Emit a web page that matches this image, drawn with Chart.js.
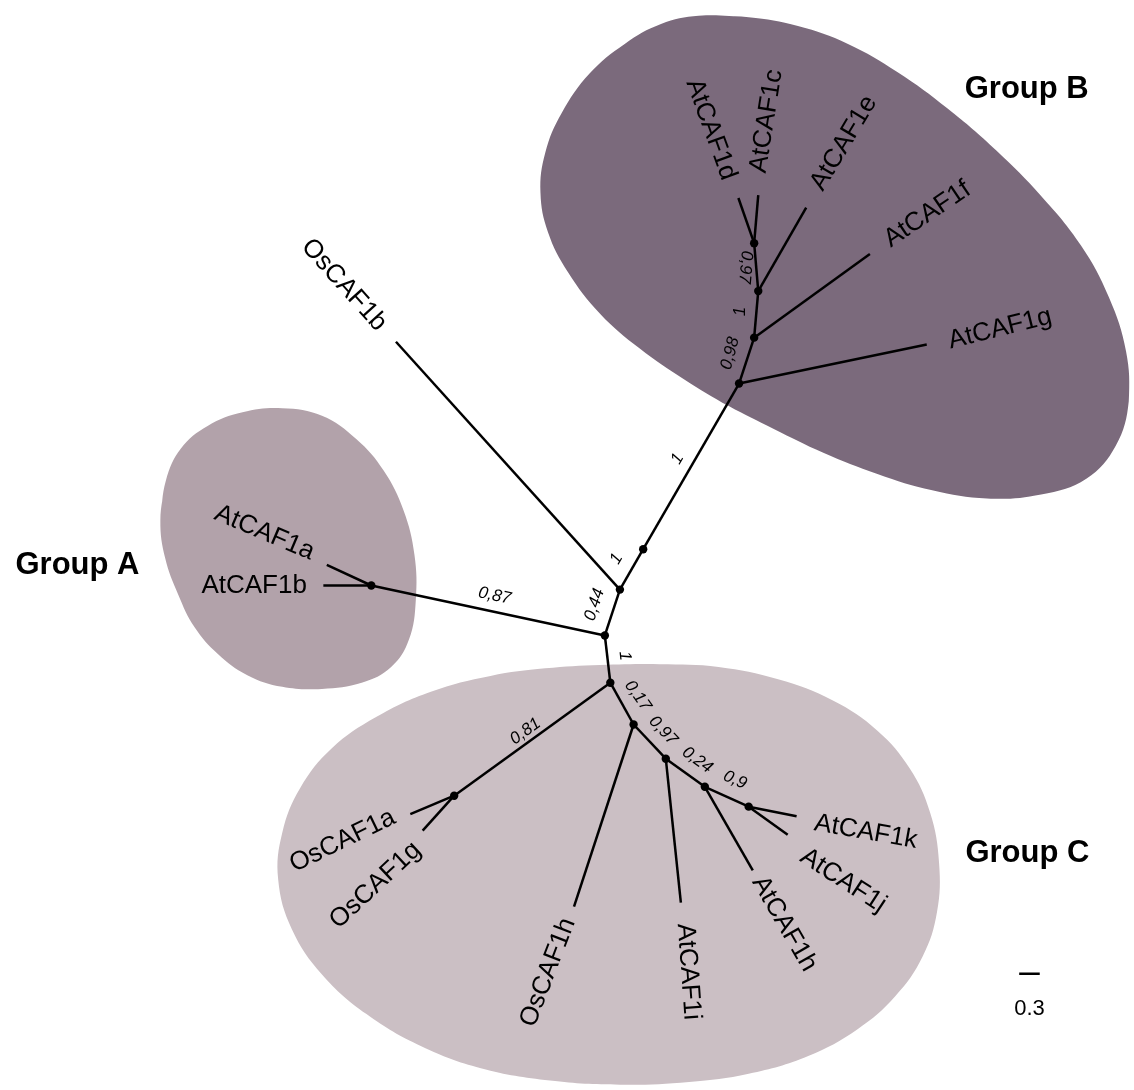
<!DOCTYPE html>
<html>
<head>
<meta charset="utf-8">
<script src="https://cdn.jsdelivr.net/npm/chart.js@4.4.1/dist/chart.umd.min.js"></script>
<style>
  html, body { margin: 0; padding: 0; background: #ffffff; }
  canvas { display: block; }
</style>
</head>
<body>
<canvas id="tree" width="1134" height="1090"></canvas>
<script>
// Unrooted CAF1 tree, laid out in branch-length units (scale bar = 0.3).
// View extent of the layout in those units.
const VIEW_W = 16.435;
const VIEW_H = 15.797;

// Internal nodes
const nodeIds = ['root', 'bStem', 'bG', 'bF', 'bE', 'bDC', 'aJoin', 'aNode', 'cRoot', 'osNode', 'c1', 'c2', 'c3', 'c4'];
const nodeX   = [8.99, 9.33, 10.73, 10.95, 11.01, 10.95, 8.77, 5.36, 8.85, 6.57, 9.19, 9.66, 10.23, 10.87];
const nodeY   = [8.55, 7.96, 5.54, 4.87, 4.19, 3.49, 9.22, 8.49, 9.91, 11.56, 10.52, 11.02, 11.43, 11.72];

// Internal branches (child -> parent)
const innerChild  = ['bStem', 'bG', 'bF', 'bE', 'bDC', 'aJoin', 'aNode', 'cRoot', 'osNode', 'c1', 'c2', 'c3', 'c4'];
const innerParent = ['root', 'bStem', 'bG', 'bF', 'bE', 'root', 'aJoin', 'aJoin', 'cRoot', 'cRoot', 'c1', 'c2', 'c3'];

// Leaves
const tipNames  = ['AtCAF1d', 'AtCAF1c', 'AtCAF1e', 'AtCAF1f', 'AtCAF1g', 'OsCAF1b', 'AtCAF1a', 'AtCAF1b',
                   'OsCAF1a', 'OsCAF1g', 'OsCAF1h', 'AtCAF1i', 'AtCAF1h', 'AtCAF1k', 'AtCAF1j'];
const tipParent = ['bDC', 'bDC', 'bE', 'bF', 'bG', 'root', 'aNode', 'aNode',
                   'osNode', 'osNode', 'c1', 'c2', 'c3', 'c4', 'c4'];
const tipX = [10.72, 11.01, 11.71, 12.64, 13.47, 5.72, 4.71, 4.66, 5.93, 6.11, 8.32, 9.88, 10.93, 11.57, 11.44];
const tipY = [2.83, 2.79, 2.97, 3.65, 4.97, 4.93, 8.19, 8.49, 11.83, 12.07, 13.18, 13.12, 12.65, 11.86, 12.13];

// Support values on internal branches
const supportText = ['0,97', '1', '0,98', '1', '1', '0,44', '0,87', '1', '0,81', '0,17', '0,97', '0,24', '0,9'];

// Group names and outlines of the shaded regions
const groupNames = ['Group A', 'Group B', 'Group C'];
const groupAOutline = [[2.28, 7.54], [2.36, 6.96], [2.58, 6.49], [2.97, 6.16], [3.48, 5.96], [4.06, 5.90],
  [4.64, 6.01], [5.14, 6.35], [5.54, 6.81], [5.83, 7.39], [5.99, 8.04], [6.01, 8.70], [5.91, 9.28],
  [5.65, 9.68], [5.22, 9.91], [4.64, 10.00], [4.06, 9.97], [3.55, 9.80], [3.12, 9.49], [2.78, 9.10],
  [2.54, 8.62], [2.35, 8.09]];
const groupBOutline = [[10.14, 0.17], [10.87, 0.19], [11.59, 0.32], [12.32, 0.58], [13.04, 0.99], [13.77, 1.52],
  [14.49, 2.14], [15.14, 2.80], [15.72, 3.52], [16.13, 4.28], [16.38, 5.07], [16.42, 5.80], [16.23, 6.45],
  [15.80, 6.93], [15.14, 7.16], [14.35, 7.22], [13.55, 7.10], [12.75, 6.86], [11.96, 6.55], [11.23, 6.20],
  [10.58, 5.87], [9.93, 5.48], [9.28, 5.03], [8.70, 4.52], [8.23, 3.91], [7.94, 3.33], [7.83, 2.75],
  [7.90, 2.17], [8.14, 1.59], [8.55, 1.01], [9.06, 0.58], [9.59, 0.29]];
const groupCOutline = [[8.70, 9.65], [9.57, 9.64], [10.43, 9.68], [11.30, 9.86], [12.10, 10.17], [12.75, 10.61],
  [13.22, 11.16], [13.52, 11.81], [13.65, 12.54], [13.62, 13.26], [13.41, 13.91], [13.01, 14.49],
  [12.46, 14.97], [11.74, 15.36], [10.87, 15.62], [10.00, 15.74], [8.99, 15.78], [7.97, 15.72],
  [6.96, 15.54], [6.09, 15.22], [5.29, 14.75], [4.64, 14.17], [4.20, 13.51], [4.00, 12.78],
  [4.06, 12.10], [4.32, 11.45], [4.78, 10.87], [5.43, 10.41], [6.23, 10.04], [7.10, 9.81], [7.90, 9.70]];

// Scale bar
const scaleBarLength = 0.3;
const scaleBarLabel = '0.3';

// ---- text placement (x, y, rotation in degrees) ----
const tipLabelAt = [
  [10.32, 1.83, 70], [11.13, 1.71, -81], [12.26, 2.03, -59], [13.48, 3.07, -34], [14.54, 4.74, -14],
  [4.96, 4.10, 48], [3.80, 7.72, 23], [3.65, 8.49, 0],
  [4.94, 12.22, -26], [5.42, 12.87, -43], [7.94, 14.14, -69], [9.99, 14.13, 86],
  [11.39, 13.43, 60], [12.58, 12.09, 10], [12.25, 12.80, 33]
];
const supportAt = [
  [10.82, 3.84, 95], [10.75, 4.49, -90], [10.60, 5.10, -75], [9.83, 6.64, -60], [8.94, 8.10, -60],
  [8.62, 8.77, -72], [7.16, 8.64, 12], [9.06, 9.52, 84], [7.61, 10.62, -36], [9.25, 10.10, 55],
  [9.62, 10.61, 47], [10.12, 11.04, 36], [10.67, 11.33, 24]
];
const groupLabelAt = [[1.07, 8.20], [14.93, 1.25], [14.94, 12.41]];
const scaleBarAt = [14.82, 14.16];
const scaleLabelAt = [14.97, 14.68];

const FONT = '"Liberation Sans", Arial, Helvetica, sans-serif';
const LINE_W = 2.5;

// ---- build datasets ----
const nodeIndex = Object.fromEntries(nodeIds.map((id, i) => [id, i]));
const nodePoint = id => ({ x: nodeX[nodeIndex[id]], y: nodeY[nodeIndex[id]] });

function blobDataset(outline, color) {
  const pts = outline.map(([x, y]) => ({ x, y }));
  // close the loop smoothly by wrapping the first two points around
  const data = pts.concat([pts[0], pts[1]]);
  return {
    data,
    fill: 'shape',
    backgroundColor: color,
    borderWidth: 0,
    borderColor: 'rgba(0,0,0,0)',
    pointRadius: 0,
    tension: 0.4,
    order: 10
  };
}

function branchDataset(a, b) {
  return {
    data: [a, b],
    borderColor: '#000000',
    borderWidth: LINE_W,
    pointRadius: 0,
    fill: false,
    tension: 0,
    borderCapStyle: 'butt',
    order: 5
  };
}

const datasets = [
  blobDataset(groupBOutline, '#7b6a7c'),
  blobDataset(groupAOutline, '#b2a2aa'),
  blobDataset(groupCOutline, '#cbbfc4')
];

innerChild.forEach((c, i) => datasets.push(branchDataset(nodePoint(c), nodePoint(innerParent[i]))));
tipNames.forEach((t, i) => datasets.push(branchDataset({ x: tipX[i], y: tipY[i] }, nodePoint(tipParent[i]))));

// scale bar
datasets.push({
  data: [{ x: scaleBarAt[0], y: scaleBarAt[1] }, { x: scaleBarAt[0] + scaleBarLength, y: scaleBarAt[1] }],
  borderColor: '#000000', borderWidth: LINE_W, pointRadius: 0, fill: false, order: 5
});

// node dots
datasets.push({
  data: nodeIds.map((id, i) => ({ x: nodeX[i], y: nodeY[i] })),
  showLine: false,
  pointRadius: 4.2,
  pointBackgroundColor: '#000000',
  pointBorderWidth: 0,
  order: 1
});

const treeText = {
  id: 'treeText',
  afterDatasetsDraw(chart) {
    const { ctx, scales } = chart;
    const put = (text, x, y, deg, font, align) => {
      ctx.save();
      ctx.translate(scales.x.getPixelForValue(x), scales.y.getPixelForValue(y));
      ctx.rotate(deg * Math.PI / 180);
      ctx.font = font;
      ctx.fillStyle = '#000000';
      ctx.textAlign = align || 'center';
      ctx.textBaseline = 'middle';
      ctx.fillText(text, 0, 0);
      ctx.restore();
    };
    tipNames.forEach((t, i) => put(t, tipLabelAt[i][0], tipLabelAt[i][1], tipLabelAt[i][2], '26px ' + FONT));
    supportText.forEach((s, i) => put(s, supportAt[i][0], supportAt[i][1], supportAt[i][2], 'italic 17px ' + FONT));
    groupNames.forEach((g, i) => put(g, groupLabelAt[i][0], groupLabelAt[i][1], 0, 'bold 31px ' + FONT));
    put(scaleBarLabel, scaleLabelAt[0], scaleLabelAt[1], 0, '22px ' + FONT);
  }
};

new Chart(document.getElementById('tree'), {
  type: 'line',
  data: { datasets },
  options: {
    responsive: false,
    animation: false,
    events: [],
    devicePixelRatio: 1,
    layout: { padding: 0 },
    scales: {
      x: { type: 'linear', min: 0, max: VIEW_W, display: false },
      y: { type: 'linear', min: 0, max: VIEW_H, reverse: true, display: false }
    },
    plugins: { legend: { display: false }, tooltip: { enabled: false } }
  },
  plugins: [treeText]
});
</script>
</body>
</html>
